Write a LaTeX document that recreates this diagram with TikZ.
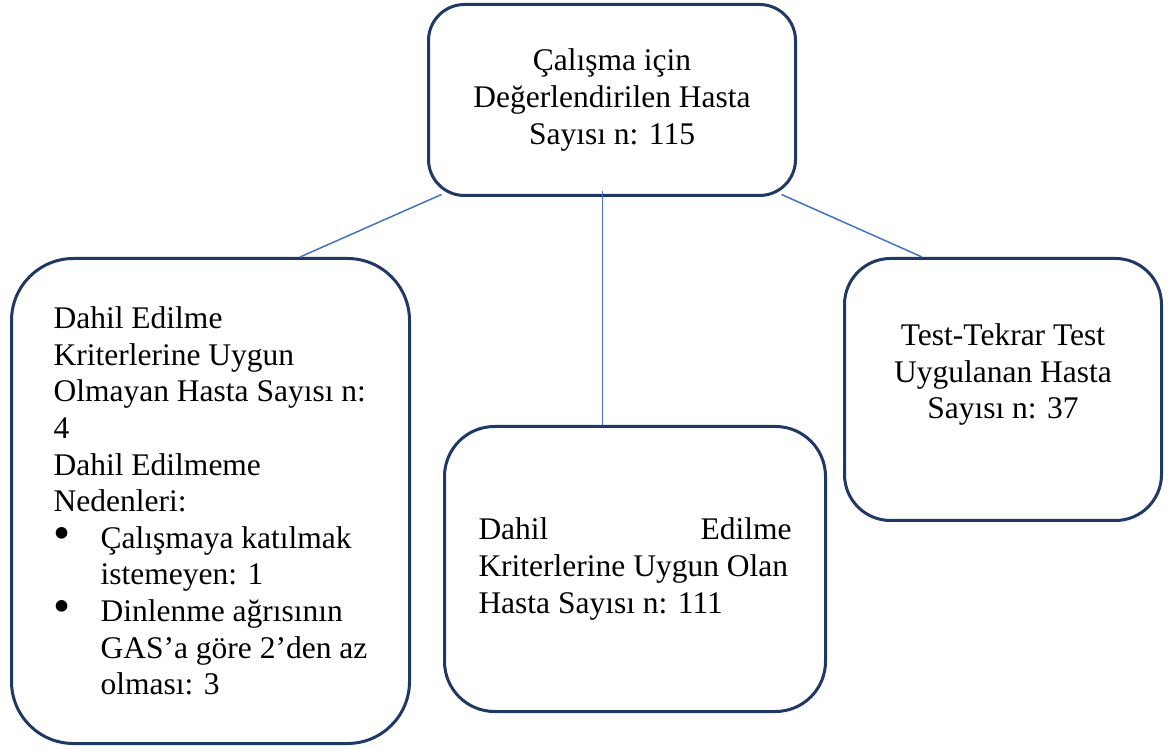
\documentclass[tikz,border=0pt]{standalone}
\usepackage{fontspec}
\setmainfont{Liberation Serif}
\usepackage{tikz}
\definecolor{kenar}{RGB}{31,56,100}
\definecolor{hat}{RGB}{68,114,196}
\tikzstyle{kutu} = [draw=kenar, line width=3pt, fill=white, inner sep=0pt, font=\fontsize{31.5}{36.6}\selectfont]
\tikzstyle{hatcizgi} = [draw=hat, line width=1.5pt]
\newcommand{\madde}{\makebox[47pt][l]{\raisebox{-0.05ex}{\scalebox{1.55}{\textbullet}}}}
\newcommand{\girinti}{\hspace*{47pt}}

\begin{document}
\begin{tikzpicture}[x=1pt,y=1pt]%
	\useasboundingbox (0,0) rectangle (1171,748);%
	\node [kutu, rounded corners=36pt, minimum width=367pt, minimum height=191pt, align=center] (oran) at (612,648) {Çalışma için\\Değerlendirilen Hasta\\Sayısı n: 115};%
	\node [kutu, rounded corners=62pt, minimum width=398pt, minimum height=485pt, align=left] (dahil) at (210.5,247) {Dahil Edilme\\Kriterlerine Uygun\\Olmayan Hasta Sayısı n:\\4\\Dahil Edilmeme\\Nedenleri:\\%
		\madde Çalışmaya katılmak\\\girinti istemeyen: 1\\%
		\madde Dinlenme ağrısının\\\girinti GAS’a göre 2’den az\\\girinti olması: 3};%
	\node [kutu, rounded corners=50pt, minimum width=381pt, minimum height=285pt, align=left] (olan) at (635,179) {\makebox[313pt][l]{Dahil\hfill Edilme}\\Kriterlerine Uygun Olan\\Hasta Sayısı n: 111};%
	\node [kutu, rounded corners=46pt, minimum width=317pt, minimum height=262pt, align=center] (test) at (1003,358.5) {Test-Tekrar Test\\Uygulanan Hasta\\Sayısı n: 37\\~};%
	\draw [hatcizgi] ([xshift=14.5pt,yshift=2.5pt]oran.south west) -- ([xshift=89.5pt]dahil.north);%
	\draw [hatcizgi] ([xshift=-9.5pt,yshift=5.5pt]oran.south) -- ([xshift=-32.5pt]olan.north);%
	\draw [hatcizgi] ([xshift=-15.5pt,yshift=2.5pt]oran.south east) -- ([xshift=-81pt]test.north);%
\end{tikzpicture}
\end{document}
